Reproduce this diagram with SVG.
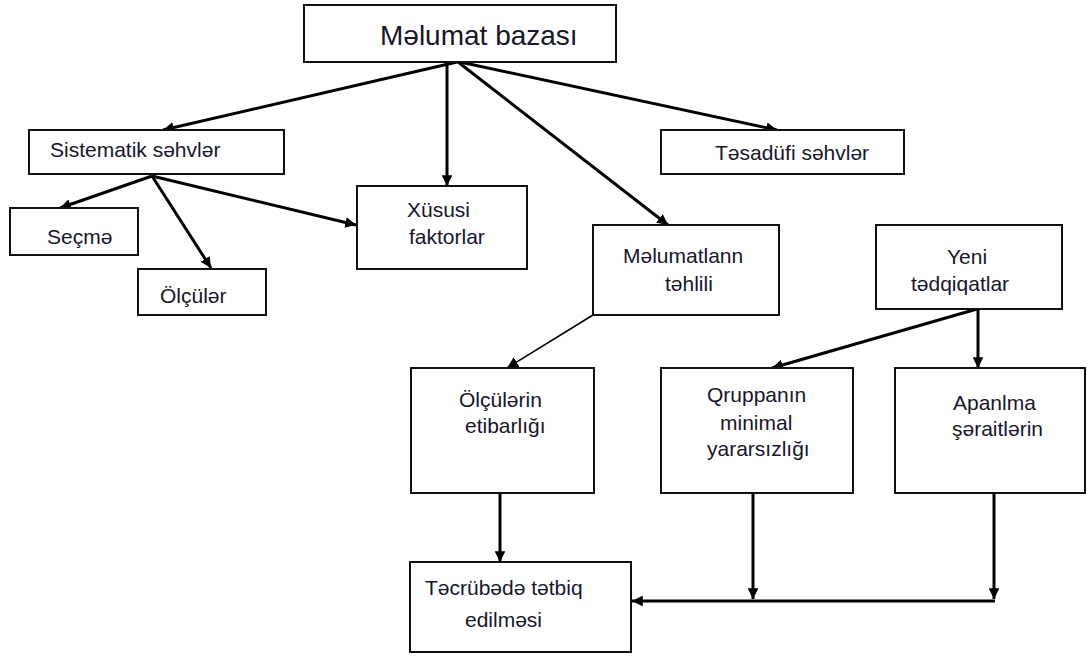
<svg xmlns="http://www.w3.org/2000/svg" width="1087" height="656" viewBox="0 0 1087 656">
<defs>
<marker id="ah" viewBox="0 0 10 10" refX="10" refY="5" markerWidth="3.6" markerHeight="3.6" orient="auto" markerUnits="strokeWidth">
<path d="M0,0 L10,5 L0,10 z" fill="#000"/>
</marker>
<marker id="ahs" viewBox="0 0 10 10" refX="10" refY="5" markerWidth="7" markerHeight="7" orient="auto" markerUnits="strokeWidth">
<path d="M0,0 L10,5 L0,10 z" fill="#000"/>
</marker>
</defs>
<style>
rect{fill:#fff;stroke:#111;stroke-width:2}
text{font-family:"Liberation Sans",Arial,sans-serif;font-size:21px;fill:#16162c}
.t{font-size:28px}
.c{stroke:#000;stroke-width:3;fill:none;marker-end:url(#ah)}
.thin{stroke:#000;stroke-width:1.6;fill:none;marker-end:url(#ahs)}
</style>
<rect x="0" y="0" width="1087" height="656" style="fill:#fff;stroke:none"/>
<g id="connectors">
<line class="c" x1="457" y1="62" x2="163" y2="130"/>
<line class="c" x1="447" y1="62" x2="447" y2="186"/>
<line class="c" x1="460" y1="62" x2="777" y2="130"/>
<line class="c" x1="458" y1="62" x2="668" y2="225"/>
<line class="c" x1="152" y1="176" x2="60" y2="208"/>
<line class="c" x1="152" y1="176" x2="211" y2="268"/>
<line class="c" x1="152" y1="176" x2="356" y2="225"/>
<line class="thin" x1="593" y1="315" x2="507" y2="368"/>
<line class="c" x1="977" y1="309" x2="772" y2="368"/>
<line class="c" x1="978" y1="309" x2="978" y2="368"/>
<line class="c" x1="500" y1="493" x2="500" y2="562"/>
<line class="c" x1="753" y1="493" x2="753" y2="599"/>
<line class="c" x1="994" y1="493" x2="994" y2="599"/>
<line class="c" x1="995" y1="601" x2="632" y2="601"/>
</g>
<g id="melumat-bazasi">
<rect x="304" y="5" width="312" height="57"/>
<text class="t" x="380" y="45">Məlumat bazası</text>
</g>
<g id="sistematik">
<rect x="29" y="130" width="255" height="44"/>
<text x="50" y="157">Sistematik səhvlər</text>
</g>
<g id="tesadufi">
<rect x="661" y="130" width="243" height="44"/>
<text x="715" y="160">Təsadüfi səhvlər</text>
</g>
<g id="secme">
<rect x="10" y="208" width="128" height="47"/>
<text x="47" y="244">Seçmə</text>
</g>
<g id="olculer">
<rect x="138" y="269" width="128" height="46"/>
<text x="160" y="303">Ölçülər</text>
</g>
<g id="xususi">
<rect x="357" y="186" width="170" height="83"/>
<text x="407" y="217">Xüsusi</text>
<text x="409" y="244">faktorlar</text>
</g>
<g id="melumatlarin">
<rect x="593" y="225" width="186" height="90"/>
<text x="623" y="263">Məlumatlann</text>
<text x="665" y="291">təhlili</text>
</g>
<g id="yeni">
<rect x="876" y="225" width="186" height="84"/>
<text x="947" y="264">Yeni</text>
<text x="911" y="291">tədqiqatlar</text>
</g>
<g id="olculerin">
<rect x="411" y="368" width="183" height="125"/>
<text x="459" y="407">Ölçülərin</text>
<text x="465" y="433">etibarlığı</text>
</g>
<g id="qruppanin">
<rect x="661" y="368" width="192" height="125"/>
<text x="707" y="402">Qruppanın</text>
<text x="720" y="430">minimal</text>
<text x="707" y="456">yararsızlığı</text>
</g>
<g id="apanilma">
<rect x="895" y="368" width="190" height="125"/>
<text x="953" y="410">Apanlma</text>
<text x="952" y="436">şəraitlərin</text>
</g>
<g id="tecrubede">
<rect x="410" y="562" width="221" height="90"/>
<text x="425" y="595">Təcrübədə tətbiq</text>
<text x="465" y="627">edilməsi</text>
</g>
</svg>
